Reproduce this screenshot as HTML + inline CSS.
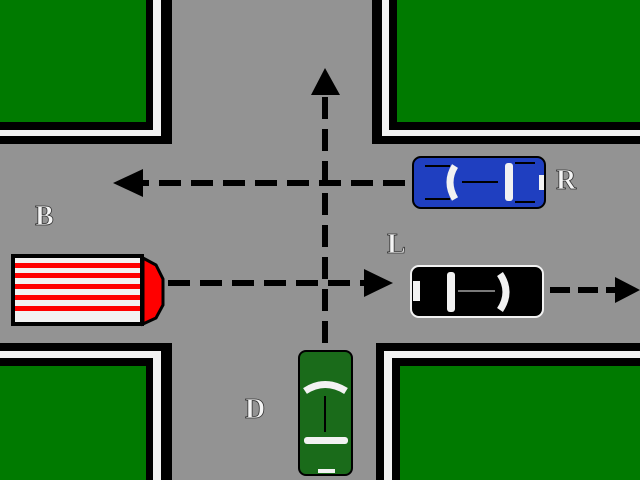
<!DOCTYPE html>
<html><head><style>body{margin:0;background:#939393}svg{display:block}
text{font-family:"Liberation Serif",serif;font-weight:bold;font-size:28px;fill:#f4f4f4;stroke:#333;stroke-width:0.8}</style></head>
<body>
<svg width="640" height="480" xmlns="http://www.w3.org/2000/svg">
<rect width="640" height="480" fill="#939393"/>
<rect x="0" y="0" width="172" height="144" fill="#000"/>
<rect x="0" y="0" width="161" height="136" fill="#f2f2f2"/>
<rect x="0" y="0" width="153" height="130" fill="#000"/>
<rect x="0" y="0" width="146" height="122" fill="#007a00"/>
<rect x="372" y="0" width="268" height="144" fill="#000"/>
<rect x="382" y="0" width="258" height="136" fill="#f2f2f2"/>
<rect x="389" y="0" width="251" height="130" fill="#000"/>
<rect x="397" y="0" width="243" height="122" fill="#007a00"/>
<rect x="0" y="343" width="172" height="137" fill="#000"/>
<rect x="0" y="351" width="161" height="129" fill="#f2f2f2"/>
<rect x="0" y="358" width="153" height="122" fill="#000"/>
<rect x="0" y="366" width="146" height="114" fill="#007a00"/>
<rect x="376" y="343" width="264" height="137" fill="#000"/>
<rect x="384" y="351" width="256" height="129" fill="#f2f2f2"/>
<rect x="392" y="358" width="248" height="122" fill="#000"/>
<rect x="400" y="366" width="240" height="114" fill="#007a00"/>
<g stroke="#000" stroke-width="6" stroke-dasharray="22,10" fill="none">
<line x1="325" y1="343" x2="325" y2="95"/>
<line x1="405" y1="183" x2="140" y2="183"/>
<line x1="168" y1="283" x2="366" y2="283"/>
<line x1="550" y1="290" x2="615" y2="290" stroke-dasharray="20,8"/>
</g>
<polygon points="325,68 311,95 340,95" fill="#000"/>
<polygon points="113,183 143,169 143,197" fill="#000"/>
<polygon points="393,283 364,269 364,297" fill="#000"/>
<polygon points="640,290 615,277 615,303" fill="#000"/>
<rect x="413" y="157" width="132" height="51" rx="8" fill="#1f3fc0" stroke="#000" stroke-width="2"/>
<g stroke="#000" stroke-width="2"><line x1="425" y1="166" x2="450" y2="166"/><line x1="425" y1="199" x2="450" y2="199"/><line x1="515" y1="163" x2="535" y2="163"/><line x1="515" y1="202" x2="535" y2="202"/></g>
<path d="M455,166 Q445,182 455,199" stroke="#f2f2f2" stroke-width="7" fill="none"/>
<rect x="505" y="163" width="8" height="38" rx="3" fill="#f2f2f2"/>
<line x1="462" y1="182" x2="498" y2="182" stroke="#000" stroke-width="2"/>
<rect x="539" y="175" width="5" height="15" fill="#f2f2f2"/>
<rect x="411" y="266" width="132" height="51" rx="8" fill="#000" stroke="#f2f2f2" stroke-width="2"/>
<rect x="413" y="281" width="7" height="20" fill="#f2f2f2"/>
<rect x="447" y="272" width="8" height="40" rx="3" fill="#f2f2f2"/>
<path d="M500,274 Q512,292 500,310" stroke="#f2f2f2" stroke-width="7" fill="none"/>
<line x1="458" y1="291" x2="495" y2="291" stroke="#f2f2f2" stroke-width="1"/>
<polygon points="143,258 156,265 163,279 163,305 156,318 143,324" fill="#f00" stroke="#000" stroke-width="3"/>
<rect x="11" y="254" width="133" height="72" fill="#000"/>
<rect x="15" y="258" width="125" height="64" fill="#f2f2f2"/>
<g fill="#f00"><rect x="15" y="263" width="125" height="5"/><rect x="15" y="273" width="125" height="5"/><rect x="15" y="284" width="125" height="5"/><rect x="15" y="295" width="125" height="5"/><rect x="15" y="306" width="125" height="5"/></g>
<rect x="299" y="351" width="53" height="124" rx="7" fill="#1a6b1a" stroke="#000" stroke-width="2"/>
<path d="M305,391 Q325,378 346,391" stroke="#f2f2f2" stroke-width="7" fill="none"/>
<rect x="304" y="437" width="44" height="7" rx="3" fill="#f2f2f2"/>
<line x1="325" y1="396" x2="325" y2="432" stroke="#000" stroke-width="2"/>
<rect x="318" y="469" width="17" height="4" fill="#f2f2f2"/>
<text x="35" y="225">B</text>
<text x="556" y="189">R</text>
<text x="387" y="253">L</text>
<text x="245" y="418">D</text>
</svg>
</body></html>
